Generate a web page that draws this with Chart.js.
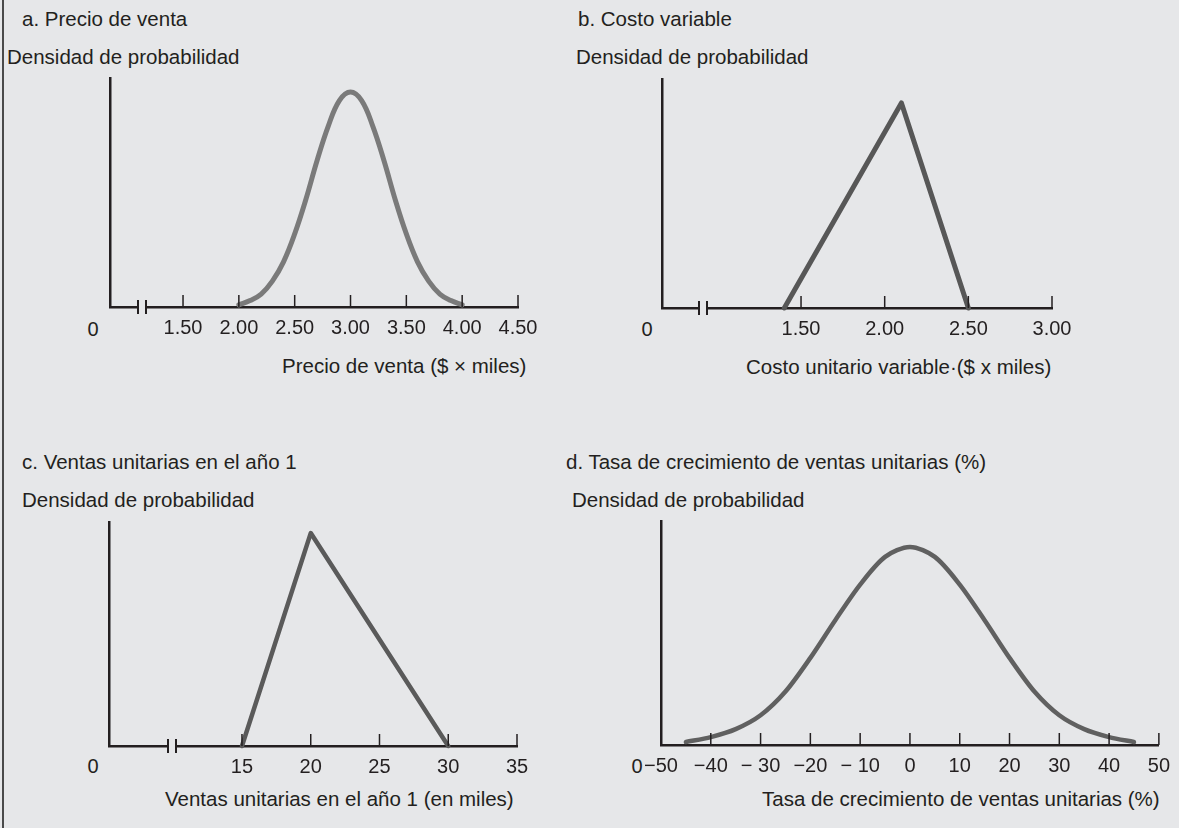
<!DOCTYPE html>
<html>
<head>
<meta charset="utf-8">
<script src="https://cdn.jsdelivr.net/npm/chart.js@4.4.0/dist/chart.umd.min.js"></script>
<style>
  html, body { margin: 0; padding: 0; }
  body {
    width: 1179px; height: 828px; position: relative; overflow: hidden;
    background: #e6e7e9; color: #231f20;
    font-family: 'Liberation Sans', Arial, sans-serif;
  }
  .frame { position: absolute; left: 2px; top: 0; width: 2px; height: 828px; background: #4a4a4a; }
  .txt { position: absolute; font-size: 20.5px; line-height: 20.5px; white-space: nowrap; }
  .zero { position: absolute; font-size: 20px; line-height: 20px; transform: translateX(-50%); }
  canvas { position: absolute; }
</style>
</head>
<body>
<div class="frame"></div>

<div class="txt" style="left:22px; top:9px">a. Precio de venta</div>
<div class="txt" style="left:7px; top:47px">Densidad de probabilidad</div>
<div class="txt" style="left:578px; top:9px">b. Costo variable</div>
<div class="txt" style="left:576px; top:47px">Densidad de probabilidad</div>
<div class="txt" style="left:282px; top:356px">Precio de venta ($ &times; miles)</div>
<div class="txt" style="left:746px; top:357px">Costo unitario variable&middot;($ x miles)</div>

<div class="txt" style="left:22px; top:452px">c. Ventas unitarias en el año 1</div>
<div class="txt" style="left:22px; top:490px">Densidad de probabilidad</div>
<div class="txt" style="left:566px; top:452px">d. Tasa de crecimiento de ventas unitarias (%)</div>
<div class="txt" style="left:572px; top:490px">Densidad de probabilidad</div>
<div class="txt" style="left:165px; top:789px">Ventas unitarias en el año 1 (en miles)</div>
<div class="txt" style="left:762px; top:789px">Tasa de crecimiento de ventas unitarias (%)</div>

<div class="zero" style="left:93px; top:319px">0</div>
<div class="zero" style="left:647px; top:319px">0</div>
<div class="zero" style="left:93px; top:756px">0</div>
<div class="zero" style="left:637px; top:756px">0</div>

<canvas id="chartA" width="589" height="360" style="left:0; top:0"></canvas>
<canvas id="chartB" width="590" height="360" style="left:589px; top:0"></canvas>
<canvas id="chartC" width="589" height="414" style="left:0; top:414px"></canvas>
<canvas id="chartD" width="590" height="414" style="left:589px; top:414px"></canvas>

<script>
// a. precio de venta (curva normal)
const precioX = [2.0, 2.1, 2.2, 2.3, 2.4, 2.5, 2.6, 2.7, 2.8, 2.9, 3.0, 3.1, 3.2, 3.3, 3.4, 3.5, 3.6, 3.7, 3.8, 3.9, 4.0];
const precioY = [1, 3, 6, 12, 21, 34, 50, 68, 84, 96, 100, 96, 84, 68, 50, 34, 21, 12, 6, 3, 1];
const precioTicks = [1.5, 2.0, 2.5, 3.0, 3.5, 4.0, 4.5];
const precioLabels = ['1.50', '2.00', '2.50', '3.00', '3.50', '4.00', '4.50'];

// b. costo variable (triangular)
const costoX = [1.4, 2.1, 2.5];
const costoY = [0, 100, 0];
const costoTicks = [1.5, 2.0, 2.5, 3.0];
const costoLabels = ['1.50', '2.00', '2.50', '3.00'];

// c. ventas unitarias año 1 (triangular)
const ventasX = [15, 20, 30];
const ventasY = [0, 100, 0];
const ventasTicks = [15, 20, 25, 30, 35];
const ventasLabels = ['15', '20', '25', '30', '35'];

// d. tasa de crecimiento (curva normal)
const tasaX = [-45, -40, -35, -30, -25, -20, -15, -10, -5, 0, 5, 10, 15, 20, 25, 30, 35, 40, 45];
const tasaY = [1.5, 4, 8, 15, 27, 44, 63, 81, 95, 100, 95, 81, 63, 44, 27, 15, 8, 4, 1.5];
const tasaTicks = [-50, -40, -30, -20, -10, 0, 10, 20, 30, 40, 50];
const tasaLabels = ['\u221250', '\u221240', '\u2212 30', '\u221220', '\u2212 10', '0', '10', '20', '30', '40', '50'];

const ink = '#231f20';
const bg = '#e6e7e9';

Chart.defaults.font.family = "'Liberation Sans', Arial, sans-serif";
Chart.defaults.font.size = 20;
Chart.defaults.color = ink;

// marcas de graduacion hacia arriba y corte del eje
const axisMarks = {
  id: 'axisMarks',
  afterDraw(chart, args, opts) {
    const ctx = chart.ctx;
    const area = chart.chartArea;
    const xs = chart.scales.x;
    ctx.save();
    ctx.strokeStyle = ink;
    ctx.lineWidth = 1.5;
    xs.ticks.forEach(t => {
      const px = xs.getPixelForValue(t.value);
      ctx.beginPath();
      ctx.moveTo(px, area.bottom);
      ctx.lineTo(px, area.bottom - 12);
      ctx.stroke();
    });
    if (opts.gap) {
      const a = area.left + opts.gap[0];
      const b = area.left + opts.gap[1];
      ctx.fillStyle = bg;
      ctx.fillRect(a, area.bottom - 3, b - a, 6);
      ctx.lineWidth = 2;
      [a, b].forEach(px => {
        ctx.beginPath();
        ctx.moveTo(px, area.bottom - 7);
        ctx.lineTo(px, area.bottom + 7);
        ctx.stroke();
      });
    }
    ctx.restore();
  }
};

function makeChart(id, cfg) {
  const points = cfg.xs.map((x, i) => ({ x: x, y: cfg.ys[i] }));
  return new Chart(document.getElementById(id), {
    type: 'scatter',
    data: {
      datasets: [{
        data: points,
        showLine: true,
        borderColor: cfg.color,
        borderWidth: cfg.width,
        pointRadius: 0,
        tension: cfg.tension,
        borderCapStyle: 'round',
        borderJoinStyle: 'round',
        clip: false
      }]
    },
    options: {
      responsive: false,
      animation: false,
      events: [],
      layout: { padding: cfg.pad },
      plugins: {
        legend: { display: false },
        tooltip: { enabled: false },
        axisMarks: { gap: cfg.gap }
      },
      scales: {
        x: {
          type: 'linear',
          min: cfg.xmin,
          max: cfg.xmax,
          afterBuildTicks: s => { s.ticks = cfg.ticks.map(v => ({ value: v })); },
          ticks: {
            autoSkip: false,
            maxRotation: 0,
            padding: 9,
            callback: (v, i) => cfg.labels[i]
          },
          grid: { display: false, drawTicks: false },
          border: { display: true, color: ink, width: 2.5 }
        },
        y: {
          min: 0,
          max: cfg.ymax,
          ticks: { display: false },
          grid: { display: false, drawTicks: false },
          border: { display: true, color: ink, width: 2.5 }
        }
      }
    },
    plugins: [axisMarks]
  });
}

makeChart('chartA', {
  xs: precioX, ys: precioY, ticks: precioTicks, labels: precioLabels,
  xmin: 0.846, xmax: 4.5, ymax: 106.5,
  color: '#7a7a7a', width: 5, tension: 0.4,
  pad: { left: 110, right: 71, top: 78, bottom: 11 },
  gap: [28, 36]
});

makeChart('chartB', {
  xs: costoX, ys: costoY, ticks: costoTicks, labels: costoLabels,
  xmin: 0.669, xmax: 3.0, ymax: 111.7,
  color: '#575757', width: 5, tension: 0,
  pad: { left: 73, right: 127, top: 79, bottom: 10 },
  gap: [37, 45]
});

makeChart('chartC', {
  xs: ventasX, ys: ventasY, ticks: ventasTicks, labels: ventasLabels,
  xmin: 5.33, xmax: 35, ymax: 105.2,
  color: '#5a5a5a', width: 4.5, tension: 0,
  pad: { left: 109, right: 72, top: 108, bottom: 40 },
  gap: [59, 67]
});

makeChart('chartD', {
  xs: tasaX, ys: tasaY, ticks: tasaTicks, labels: tasaLabels,
  xmin: -50, xmax: 50, ymax: 113.1,
  color: '#606060', width: 4.5, tension: 0.3,
  pad: { left: 72, right: 19, top: 107, bottom: 41 },
  gap: null
});
</script>
</body>
</html>
